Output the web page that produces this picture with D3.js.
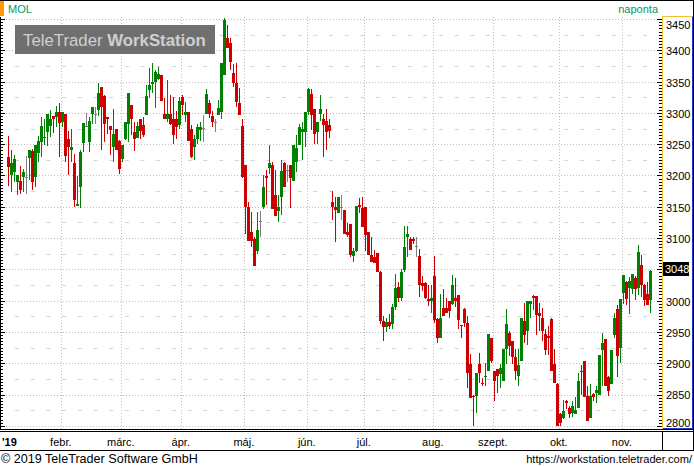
<!DOCTYPE html>
<html><head><meta charset="utf-8">
<script src="https://cdn.jsdelivr.net/npm/d3@7"></script>
<style>html,body{margin:0;padding:0;background:#fff;overflow:hidden}svg{display:block}</style>
</head><body>
<script>
// ---- data (MOL, daily, 2019) ----
const openV  = [3229,3200,3206,3190,3191,3197,3198,3228,3239,3198,3236,3254,3261,3270,3279,3295,3293,3302,3286,3299,
3259,3240,3220,3151,3181,3252,3279,3254,3299,3299,3304,3341,3327,3293,3279,3246,3275,3255,3226,3258,
3283,3312,3270,3260,3290,3281,3297,3337,3346,3350,3354,3361,3299,3290,3299,3291,3290,3280,3326,3297,
3301,3275,3245,3258,3273,3276,3298,3315,3295,3286,3297,3302,3361,3419,3411,3363,3347,3315,3279,3217,
3149,3110,3099,3079,3127,3149,3199,3212,3216,3169,3143,3166,3220,3209,3216,3191,3221,3248,3270,3270,
3302,3330,3306,3270,3299,3291,3287,3280,3158,3150,3140,3149,3145,3110,3122,3072,3079,3153,3148,3150,
3110,3073,3069,3076,3045,2968,2958,2966,2962,2990,3022,3005,3049,3102,3098,3099,3088,3072,3028,3028,
3002,3000,3039,2970,2940,2988,2988,3000,2995,3004,3009,2961,2986,2964,2899,2848,2847,2899,2869,2879,
2888,2941,2888,2890,2882,2872,2922,2949,2935,2910,2880,2903,2967,2951,2995,3008,3008,2980,2973,2947,
2943,2970,2899,2867,2819,2812,2839,2828,2820,2819,2828,2888,2903,2848,2812,2851,2853,2849,2921,2938,
2878,2867,2945,2986,2925,3012,3029,3020,3018,3036,3020,3057,3025,3011,3001];
const highV  = [3263,3240,3233,3201,3215,3211,3231,3241,3243,3249,3263,3294,3290,3299,3305,3295,3311,3315,3302,3299,
3271,3275,3235,3199,3240,3284,3300,3294,3310,3310,3347,3341,3329,3293,3279,3306,3275,3257,3249,3286,
3332,3313,3286,3286,3291,3294,3345,3371,3379,3369,3374,3361,3323,3353,3329,3326,3303,3326,3329,3318,
3302,3281,3265,3283,3286,3297,3338,3321,3303,3291,3321,3379,3452,3441,3419,3378,3379,3339,3290,3217,
3157,3141,3101,3142,3143,3200,3209,3248,3222,3209,3169,3225,3222,3216,3216,3249,3265,3283,3285,3302,
3339,3338,3306,3286,3328,3299,3306,3291,3175,3166,3166,3169,3145,3124,3122,3084,3152,3164,3165,3150,
3110,3102,3081,3076,3048,2975,2972,2978,2995,3043,3030,3050,3120,3120,3102,3101,3102,3082,3040,3029,
3025,3025,3071,2972,3011,3018,3005,3000,3041,3036,3009,2961,2988,2975,2915,2849,2885,2916,2876,2900,
2947,2941,2888,2890,2899,2922,2986,2952,2935,2922,2922,2973,2997,3000,3000,3009,3008,2997,2988,2954,
2959,2972,2922,2868,2820,2842,2842,2831,2839,2846,2885,2897,2903,2864,2867,2852,2864,2913,2949,2938,
2879,2921,2980,2993,3002,3041,3032,3038,3043,3039,3089,3073,3027,3029,3049];
const lowV   = [3183,3174,3189,3169,3171,3173,3171,3192,3176,3182,3221,3230,3249,3247,3262,3268,3277,3230,3278,3221,
3201,3221,3150,3151,3148,3238,3278,3238,3283,3283,3295,3240,3254,3266,3233,3221,3240,3202,3221,3257,
3254,3265,3239,3260,3258,3262,3297,3323,3331,3308,3353,3319,3290,3286,3281,3250,3259,3275,3297,3286,
3255,3228,3225,3251,3255,3253,3298,3292,3278,3270,3297,3291,3361,3403,3369,3342,3310,3297,3196,3106,
3095,3086,3056,3074,3102,3146,3153,3202,3146,3136,3126,3137,3182,3190,3148,3191,3206,3248,3225,3246,
3297,3273,3250,3251,3287,3230,3241,3260,3129,3094,3140,3129,3106,3101,3069,3061,3077,3140,3118,3079,
3073,3062,3060,3046,2962,2935,2950,2955,2955,2985,2998,3000,3046,3069,3081,3090,3069,3006,3016,3002,
2991,2980,2965,2932,2940,2975,2980,2972,2993,2990,2954,2940,2958,2860,2844,2799,2820,2868,2863,2864,
2888,2901,2840,2852,2860,2872,2899,2911,2899,2873,2864,2903,2933,2929,2973,2985,2945,2951,2935,2913,
2913,2888,2869,2799,2800,2811,2827,2812,2814,2819,2828,2849,2846,2808,2812,2839,2837,2849,2863,2863,
2847,2867,2940,2878,2901,2995,2993,2979,3010,3001,3009,3006,2992,2993,2980];
const closeV = [3213,3220,3227,3200,3177,3206,3198,3241,3190,3249,3255,3279,3262,3298,3290,3291,3302,3284,3302,3231,
3246,3246,3160,3154,3238,3284,3279,3287,3310,3299,3332,3310,3283,3290,3272,3266,3240,3210,3249,3286,
3331,3290,3258,3279,3271,3264,3327,3344,3350,3365,3362,3319,3291,3299,3282,3264,3278,3319,3312,3302,
3255,3230,3258,3278,3278,3276,3330,3298,3286,3286,3308,3379,3448,3403,3381,3347,3317,3297,3197,3150,
3095,3095,3056,3113,3127,3181,3196,3220,3146,3136,3150,3207,3182,3209,3196,3249,3244,3278,3275,3302,
3338,3297,3267,3286,3306,3280,3270,3271,3149,3145,3166,3149,3106,3105,3073,3079,3152,3150,3118,3105,
3073,3062,3060,3046,2968,2958,2966,2960,2990,3020,3005,3045,3086,3107,3081,3096,3088,3025,3023,3004,
3000,3004,2969,2940,2973,2975,2981,2983,3025,3000,2969,2959,2965,2885,2844,2846,2885,2884,2867,2880,
2947,2903,2872,2879,2892,2922,2963,2927,2910,2888,2897,2973,2945,3000,3000,3005,2977,2975,2951,2921,
2940,2888,2869,2799,2804,2824,2836,2819,2831,2826,2872,2887,2846,2808,2848,2846,2858,2913,2933,2863,
2855,2921,2973,2911,3002,3041,3002,3032,3043,3018,3077,3025,3001,2993,3048];

const monthLabels = ["febr.","márc.","ápr.","máj.","jún.","júl.","aug.","szept.","okt.","nov."];
const monthStartIndex = [18,38,58,79,100,119,142,162,184,205];
const yearLabel = "'19";
const yTickValues = [2800,2850,2900,2950,3000,3050,3100,3150,3200,3250,3300,3350,3400,3450];
const lastPrice = 3048;
const symbolName = "MOL";
const periodName = "naponta";

// ---- layout ----
const W = 694, H = 467;
const plotL = 0, plotR = 662, plotT = 17, plotB = 429;
const FONT = "'Liberation Sans', Arial, sans-serif";

const svg = d3.select("body").append("svg").attr("width", W).attr("height", H)
  .style("font-family", FONT);

const n = closeV.length;
const x = d3.scaleLinear().domain([0, n - 1]).range([8.3, 8.3 + 3 * (n - 1)]);
const y = d3.scaleLinear().domain([2800, 3450]).range([425.8, 19]);

svg.append("defs").append("clipPath").attr("id", "plotclip")
  .append("rect").attr("x", plotL).attr("y", plotT).attr("width", plotR - plotL).attr("height", plotB - plotT);

// outer frame
svg.append("line").attr("x1", 0).attr("x2", W).attr("y1", 0.5).attr("y2", 0.5).attr("stroke", "#000");
svg.append("line").attr("x1", 693.5).attr("x2", 693.5).attr("y1", 0).attr("y2", 451).attr("stroke", "#000");
svg.append("line").attr("x1", 0.5).attr("x2", 0.5).attr("y1", plotT).attr("y2", plotB).attr("stroke", "#000");

// legend
svg.append("rect").attr("x", 0).attr("y", 1).attr("width", 4).attr("height", 15).attr("fill", "#ff9900");
svg.append("text").attr("x", 8).attr("y", 13).attr("font-size", 11).attr("fill", "#009a5e").text(symbolName);
svg.append("text").attr("x", 658).attr("y", 13).attr("font-size", 11).attr("fill", "#009a5e")
  .attr("text-anchor", "end").text(periodName);

const grid = svg.append("g").attr("clip-path", "url(#plotclip)");
// half-level dashes
d3.range(2825, 3450, 50).forEach(v => {
  grid.append("line").attr("x1", 15).attr("x2", plotR).attr("y1", Math.round(y(v)) + 0.5).attr("y2", Math.round(y(v)) + 0.5)
    .attr("stroke", "#d4d4d4").attr("stroke-dasharray", "4,11.7");
});
// dotted horizontal grid
yTickValues.forEach(v => {
  grid.append("line").attr("x1", plotL).attr("x2", plotR).attr("y1", Math.round(y(v)) + 0.5).attr("y2", Math.round(y(v)) + 0.5)
    .attr("stroke", "#bdbdbd").attr("stroke-dasharray", "1,2");
});
// dotted vertical grid at month starts
monthStartIndex.forEach(i => {
  const gx = Math.round(x(i) - 1.5) + 0.5;
  grid.append("line").attr("x1", gx).attr("x2", gx).attr("y1", plotT).attr("y2", plotB)
    .attr("stroke", "#bdbdbd").attr("stroke-dasharray", "1,2");
});

// logo
svg.append("rect").attr("x", 15).attr("y", 25).attr("width", 200).attr("height", 29).attr("fill", "#6f6f6f");
const logo = svg.append("text").attr("x", 23).attr("y", 46).attr("font-size", 16.8).attr("fill", "#cfcfcf");
logo.append("tspan").text("TeleTrader ");
logo.append("tspan").attr("font-weight", "bold").text("WorkStation");

// left axis ticks
const leftTicks = svg.append("g");
d3.range(2800, 3455, 5).forEach(v => {
  const yy = Math.round(y(v)) + 0.5;
  if (yy < plotT || yy > plotB) return;
  const major = v % 50 === 0;
  leftTicks.append("line").attr("x1", 0).attr("x2", major ? 5 : 3).attr("y1", yy).attr("y2", yy).attr("stroke", "#000");
});

// candles
const cg = svg.append("g").attr("clip-path", "url(#plotclip)").attr("shape-rendering", "crispEdges");
const idx = d3.range(n);
const colorOf = i => closeV[i] > openV[i] ? "#008000" : (closeV[i] < openV[i] ? "#cc0000" : "#808080");
cg.selectAll("line.wick").data(idx).join("line").attr("class", "wick")
  .attr("x1", i => Math.round(x(i)) + 0.5).attr("x2", i => Math.round(x(i)) + 0.5)
  .attr("y1", i => y(highV[i])).attr("y2", i => y(lowV[i]))
  .attr("stroke", colorOf).attr("stroke-width", 1);
cg.selectAll("rect.body").data(idx).join("rect").attr("class", "body")
  .attr("x", i => Math.round(x(i)) - 1).attr("width", 3)
  .attr("y", i => Math.round(y(Math.max(openV[i], closeV[i]))))
  .attr("height", i => Math.max(1, Math.round(y(Math.min(openV[i], closeV[i]))) - Math.round(y(Math.max(openV[i], closeV[i])))))
  .attr("fill", colorOf);

// right axis box
const ax = svg.append("g");
d3.range(2800, 3455, 5).forEach(v => {
  const yy = Math.round(y(v)) + 0.5;
  if (yy < plotT || yy > plotB) return;
  const major = v % 50 === 0;
  ax.append("line").attr("x1", major ? 657 : 659).attr("x2", 662).attr("y1", yy).attr("y2", yy).attr("stroke", "#000");
});
ax.append("line").attr("x1", 662.5).attr("x2", 662.5).attr("y1", plotT - 0.5).attr("y2", plotB).attr("stroke", "#f2c12e");
ax.append("line").attr("x1", 662).attr("x2", 692).attr("y1", plotT - 0.5).attr("y2", plotT - 0.5).attr("stroke", "#f2c12e");
ax.append("line").attr("x1", 692.5).attr("x2", 692.5).attr("y1", plotT - 0.5).attr("y2", plotB + 0.5).attr("stroke", "#1a3acb");
ax.append("line").attr("x1", 663).attr("x2", 693).attr("y1", plotB - 0.5).attr("y2", plotB - 0.5).attr("stroke", "#1a3acb");
const priceY = y(lastPrice);
yTickValues.forEach(v => {
  const yy = Math.min(Math.max(y(v) + 1, 25), 423);
  if (Math.abs(yy - priceY) < 14) return; // hidden behind the last-price marker
  ax.append("text").attr("x", 666).attr("y", yy).attr("dy", "0.36em").attr("font-size", 11)
    .attr("fill", "#000").text(v);
});
// last price marker
ax.append("rect").attr("x", 663).attr("y", Math.round(priceY) - 9).attr("width", 26).attr("height", 14).attr("fill", "#000");
ax.append("text").attr("x", 665).attr("y", priceY - 2).attr("dy", "0.36em").attr("font-size", 11)
  .attr("fill", "#fff").text(lastPrice);

// bottom axis strip
const bx = svg.append("g").attr("shape-rendering", "crispEdges");
bx.append("line").attr("x1", 0).attr("x2", 694).attr("y1", 429.5).attr("y2", 429.5).attr("stroke", "#000");
bx.append("line").attr("x1", 0).attr("x2", 694).attr("y1", 431.5).attr("y2", 431.5).attr("stroke", "#000");
bx.append("line").attr("x1", 0).attr("x2", 694).attr("y1", 450.5).attr("y2", 450.5).attr("stroke", "#000");
bx.append("line").attr("x1", 662.5).attr("x2", 662.5).attr("y1", 431).attr("y2", 451).attr("stroke", "#000");
svg.append("text").attr("x", 2).attr("y", 446).attr("font-size", 11).attr("font-weight", "bold").text(yearLabel);
monthLabels.forEach((m, k) => {
  svg.append("text").attr("x", x(monthStartIndex[k]) - 1.5).attr("y", 446).attr("font-size", 11)
    .attr("text-anchor", "middle").text(m);
});

// footer
svg.append("text").attr("x", 1).attr("y", 463).attr("font-size", 12.6).text("© 2019 TeleTrader Software GmbH");
svg.append("text").attr("x", 692).attr("y", 463).attr("font-size", 11.1).attr("text-anchor", "end")
  .text("https://workstation.teletrader.com/");
</script>
</body></html>
